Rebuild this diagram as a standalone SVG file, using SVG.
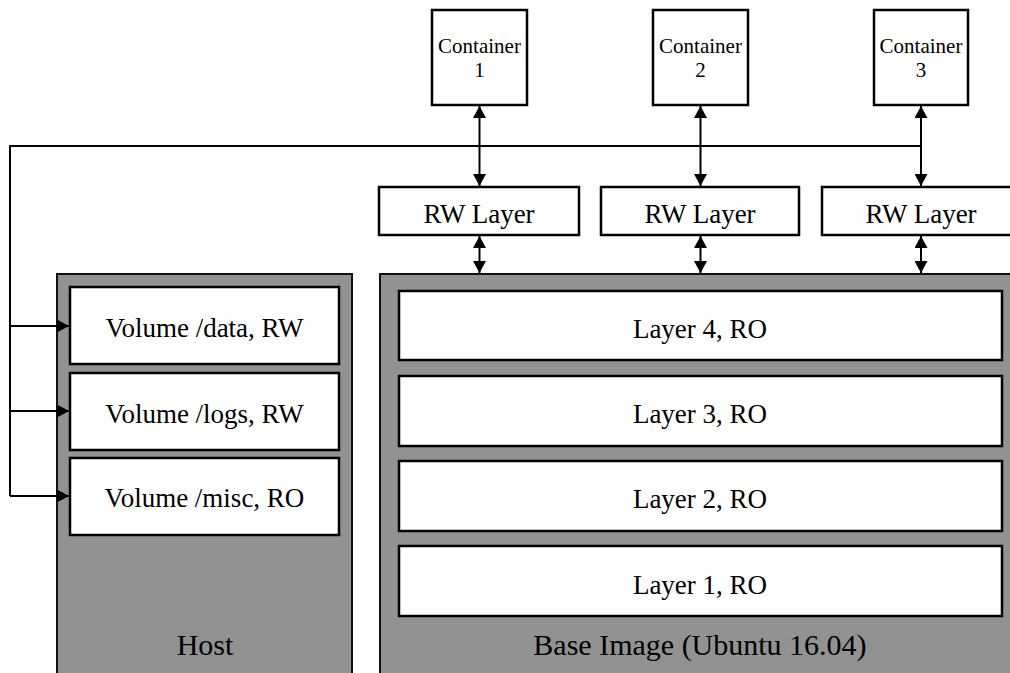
<svg xmlns="http://www.w3.org/2000/svg" width="1010" height="673" viewBox="0 0 1010 673">
  <style>
    .frame { fill: #929292; stroke: #111; stroke-width: 2; }
    .box { fill: #fff; stroke: #000; stroke-width: 2.5; }
    .wire { fill: none; stroke: #000; stroke-width: 2; }
    text { font-family: "Liberation Serif", Tinos, "Times New Roman", serif; fill: #000; text-anchor: middle; }
    .small { font-size: 21px; }
    .mid { font-size: 27px; }
    .big { font-size: 30px; }
  </style>
  <defs>
    <marker id="head" viewBox="0 0 12 13" refX="12" refY="6.5" markerWidth="12" markerHeight="13" markerUnits="userSpaceOnUse" orient="auto-start-reverse">
      <path d="M0,0 L12,6.5 L0,13 Z" fill="#000"/>
    </marker>
  </defs>

  <rect width="1010" height="673" fill="#fff"/>

  <!-- Host with volumes -->
  <g id="host">
    <rect class="frame" x="57" y="274" width="295" height="420"/>
    <text class="big" x="205" y="655">Host</text>
  </g>
  <g id="vol-data">
    <rect class="box" x="70" y="287" width="269" height="77"/>
    <text class="mid" x="204.5" y="337">Volume /data, RW</text>
  </g>
  <g id="vol-logs">
    <rect class="box" x="70" y="373" width="269" height="77"/>
    <text class="mid" x="204.5" y="423">Volume /logs, RW</text>
  </g>
  <g id="vol-misc">
    <rect class="box" x="70" y="458" width="269" height="77"/>
    <text class="mid" x="204.5" y="507">Volume /misc, RO</text>
  </g>

  <!-- Base image with read-only layers -->
  <g id="base-image">
    <rect class="frame" x="380" y="274" width="650" height="420"/>
    <text class="big" x="700" y="655">Base Image (Ubuntu 16.04)</text>
  </g>
  <g id="layer4">
    <rect class="box" x="399" y="291" width="603" height="69"/>
    <text class="mid" x="700" y="338">Layer 4, RO</text>
  </g>
  <g id="layer3">
    <rect class="box" x="399" y="376" width="603" height="70"/>
    <text class="mid" x="700" y="423">Layer 3, RO</text>
  </g>
  <g id="layer2">
    <rect class="box" x="399" y="461" width="603" height="70"/>
    <text class="mid" x="700" y="508">Layer 2, RO</text>
  </g>
  <g id="layer1">
    <rect class="box" x="399" y="546" width="603" height="70"/>
    <text class="mid" x="700" y="594">Layer 1, RO</text>
  </g>

  <!-- Writable layers -->
  <g id="rw1">
    <rect class="box" x="379" y="187" width="200" height="48"/>
    <text class="mid" x="479" y="223">RW Layer</text>
  </g>
  <g id="rw2">
    <rect class="box" x="601" y="187" width="198" height="48"/>
    <text class="mid" x="700" y="223">RW Layer</text>
  </g>
  <g id="rw3">
    <rect class="box" x="822" y="187" width="200" height="48"/>
    <text class="mid" x="921" y="223">RW Layer</text>
  </g>

  <!-- Containers -->
  <g id="container1">
    <rect class="box" x="432" y="10" width="95" height="95"/>
    <text class="small" x="479.5" y="53">Container</text>
    <text class="small" x="479.5" y="77">1</text>
  </g>
  <g id="container2">
    <rect class="box" x="653" y="10" width="95" height="95"/>
    <text class="small" x="700.5" y="53">Container</text>
    <text class="small" x="700.5" y="77">2</text>
  </g>
  <g id="container3">
    <rect class="box" x="874" y="10" width="94" height="95"/>
    <text class="small" x="921" y="53">Container</text>
    <text class="small" x="921" y="77">3</text>
  </g>

  <!-- Connectors -->
  <g id="connectors">
    <line class="wire" x1="479.5" y1="106" x2="479.5" y2="186" marker-start="url(#head)" marker-end="url(#head)"/>
    <line class="wire" x1="700.5" y1="106" x2="700.5" y2="186" marker-start="url(#head)" marker-end="url(#head)"/>
    <line class="wire" x1="921" y1="106" x2="921" y2="186" marker-start="url(#head)" marker-end="url(#head)"/>
    <line class="wire" x1="479.5" y1="236" x2="479.5" y2="273" marker-start="url(#head)" marker-end="url(#head)"/>
    <line class="wire" x1="700.5" y1="236" x2="700.5" y2="273" marker-start="url(#head)" marker-end="url(#head)"/>
    <line class="wire" x1="921" y1="236" x2="921" y2="273" marker-start="url(#head)" marker-end="url(#head)"/>
    <path class="wire" d="M921,146 H10 V496"/>
    <line class="wire" x1="10" y1="326" x2="69" y2="326" marker-end="url(#head)"/>
    <line class="wire" x1="10" y1="411" x2="69" y2="411" marker-end="url(#head)"/>
    <line class="wire" x1="10" y1="496" x2="69" y2="496" marker-end="url(#head)"/>
  </g>
</svg>
